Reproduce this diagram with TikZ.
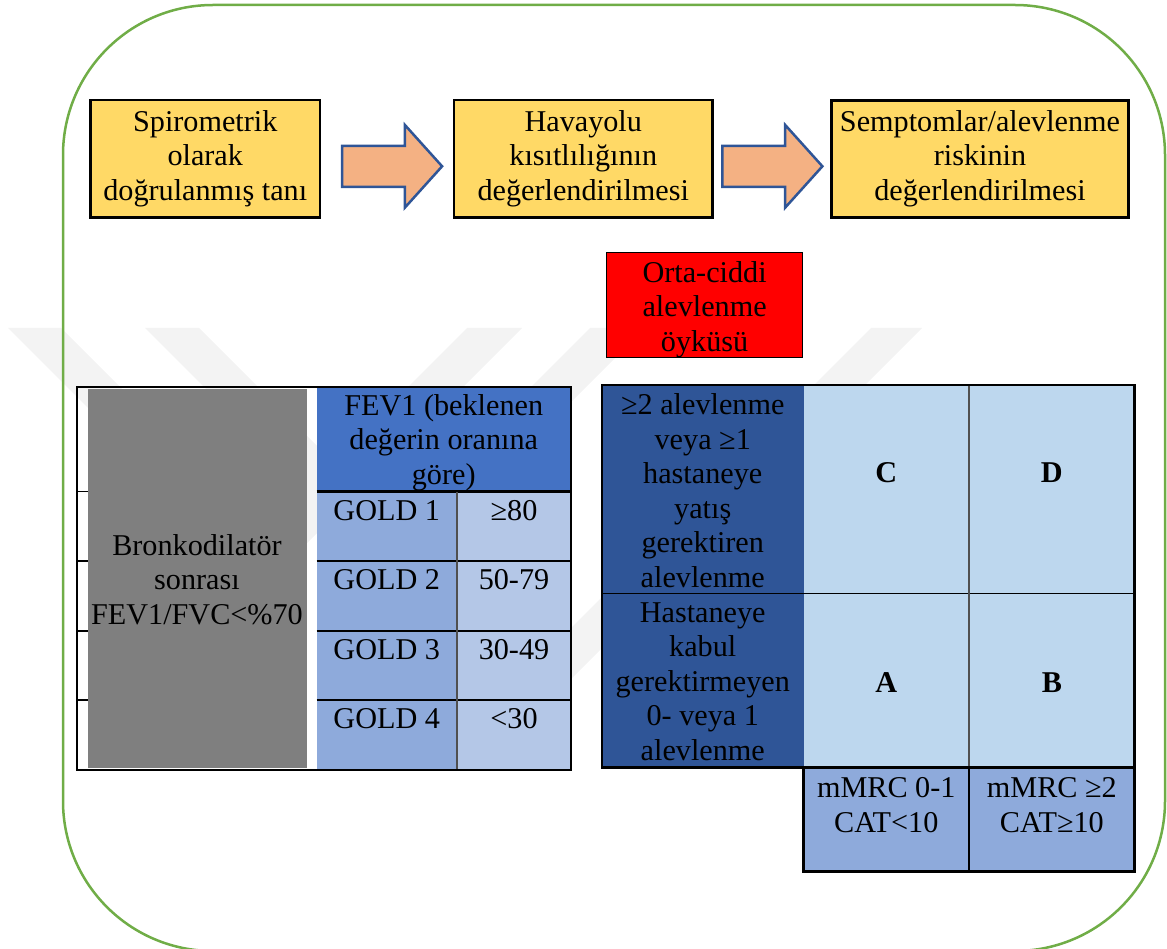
\documentclass[tikz,border=0pt]{standalone}
\usepackage{fontspec}
\setmainfont{Liberation Serif}
\usetikzlibrary{shapes.arrows}
\definecolor{frameg}{HTML}{70AD47}
\definecolor{boxy}{HTML}{FFD966}
\definecolor{arrowf}{HTML}{F4B183}
\definecolor{arrowd}{HTML}{2F5597}
\definecolor{cellgray}{HTML}{7F7F7F}
\definecolor{hdrblue}{HTML}{4472C4}
\definecolor{goldc}{HTML}{8EAADB}
\definecolor{valc}{HTML}{B4C7E7}
\definecolor{darkb}{HTML}{2F5597}
\definecolor{lightb}{HTML}{BDD7EE}
\definecolor{wmark}{HTML}{F3F3F3}
\definecolor{gridgray}{HTML}{505050}
\begin{document}
\begin{tikzpicture}[x=1pt,y=-1pt]
\tikzset{
  txt/.style={font=\fontsize{30.2}{34.5}\selectfont, align=center, inner sep=0pt, outer sep=0pt, anchor=north, execute at begin node=\strut},
  letter/.style={font=\fontsize{30.2}{34.5}\selectfont\bfseries, inner sep=0pt, anchor=center},
  cell/.style={anchor=north west, inner sep=0pt, outer sep=0pt, draw=none},
  stepbox/.style={cell, fill=boxy, draw=black, line width=2.2pt},
  blockarrow/.style={single arrow, draw=arrowd, fill=arrowf, line width=2.5pt, inner xsep=0pt, inner ysep=19.25pt, outer sep=0pt,
    single arrow tip angle=96, single arrow head extend=20.85pt, minimum height=100.1pt, minimum width=80.2pt, anchor=tail},
  outerline/.style={draw=black, line width=2.5pt},
  rowline/.style={draw=black, line width=2.2pt},
  thinline/.style={draw=black, line width=1.3pt},
  grayline/.style={draw=gridgray, line width=1.3pt}
}
\useasboundingbox (0,0) rectangle (1167,949);
\clip (0,0) rectangle (1167,949);

% watermark
\fill[wmark] (8,328)--(61,328)--(264,531)--(467,328)--(522,328)--(265,585)--cycle;
\fill[wmark] (145,328)--(199,328)--(394.5,523.5)--(590,328)--(645,328)--(395,578)--cycle;
\fill[wmark] (871,328)--(922,328)--(550,700)--(499,700)--cycle;

% frame
\draw[frameg, line width=2.5pt, rounded corners=150pt] (63,5) rectangle (1165,951);

% top row
\node[stepbox, minimum width=229.5pt, minimum height=117.5pt] (b1) at (90.5,100) {};
\node[stepbox, minimum width=258.5pt, minimum height=117.5pt] (b2) at (454,100) {};
\node[stepbox, minimum width=297pt, minimum height=117pt] (b3) at (831.5,100.5) {};
\node[txt] (tb1) at (205.25,110.5) {Spirometrik\\olarak\\doğrulanmış tanı};
\node[txt] (tb2) at (583.25,110.5) {Havayolu\\kısıtlılığının\\değerlendirilmesi};
\node[txt] (tb3) at (980,110.5) {Semptomlar/alevlenme\\riskinin\\değerlendirilmesi};
\node[blockarrow] (a1) at (342,166.3) {};
\node[blockarrow] (a2) at (722.3,166.3) {};

% red box
\node[cell, fill=red, draw=black, line width=1.5pt, minimum width=196pt, minimum height=105pt] (hist) at (606.7,252.3) {};
\node[txt] (thist) at (704.6,261.5) {Orta-ciddi\\alevlenme\\öyküsü};

% left table
\node[cell, fill=cellgray, minimum width=219.5pt, minimum height=379pt] (bronk) at (87.5,388.5) {};
\node[cell, fill=hdrblue, minimum width=254.5pt, minimum height=104.5pt] (hdr) at (316.5,387) {};
\node[cell, fill=goldc, minimum width=140.5pt, minimum height=69.5pt] (g1) at (316.5,491.5) {};
\node[cell, fill=valc, minimum width=114pt, minimum height=69.5pt] (v1) at (457,491.5) {};
\node[cell, fill=goldc, minimum width=140.5pt, minimum height=70pt] (g2) at (316.5,561) {};
\node[cell, fill=valc, minimum width=114pt, minimum height=70pt] (v2) at (457,561) {};
\node[cell, fill=goldc, minimum width=140.5pt, minimum height=69pt] (g3) at (316.5,631) {};
\node[cell, fill=valc, minimum width=114pt, minimum height=69pt] (v3) at (457,631) {};
\node[cell, fill=goldc, minimum width=140.5pt, minimum height=70pt] (g4) at (316.5,700) {};
\node[cell, fill=valc, minimum width=114pt, minimum height=70pt] (v4) at (457,700) {};
\coordinate (ltl) at (77,387);
\coordinate (lbr) at (571,770);
\draw[rowline] (g1.north west) -- (v1.north east);
\draw[rowline] (g2.north west) -- (v2.north east);
\draw[rowline] (g3.north west) -- (v3.north east);
\draw[rowline] (g4.north west) -- (v4.north east);
\draw[grayline] (v1.north west) -- (v4.south west);
\coordinate (k1) at (77,491.5); \coordinate (k2) at (77,561); \coordinate (k3) at (77,631); \coordinate (k4) at (77,700);
\draw[thinline] (k1) -- (bronk.west |- k1);
\draw[thinline] (k2) -- (bronk.west |- k2);
\draw[thinline] (k3) -- (bronk.west |- k3);
\draw[thinline] (k4) -- (bronk.west |- k4);
\draw[outerline] (ltl) rectangle (lbr);
\node[txt] (tbronk) at (197,534.5) {Bronkodilatör\\sonrası\\FEV1/FVC<\%70};
\node[txt] (thdr) at (443.75,394.5) {FEV1 (beklenen\\değerin oranına\\göre)};
\node[txt] (tg1) at (386.75,495.85) {GOLD 1};
\node[txt] (tv1) at (514,495.85) {≥80};
\node[txt] (tg2) at (386.75,565.35) {GOLD 2};
\node[txt] (tv2) at (514,565.35) {50-79};
\node[txt] (tg3) at (386.75,635.35) {GOLD 3};
\node[txt] (tv3) at (514,635.35) {30-49};
\node[txt] (tg4) at (386.75,704.35) {GOLD 4};
\node[txt] (tv4) at (514,704.35) {<30};

% right table
\node[cell, fill=darkb, minimum width=201.5pt, minimum height=208.3pt] (r1) at (602,385) {};
\node[cell, fill=darkb, minimum width=201.5pt, minimum height=174pt] (r2) at (602,593.3) {};
\node[cell, fill=lightb, minimum width=165.5pt, minimum height=208.3pt] (cC) at (803.5,385) {};
\node[cell, fill=lightb, minimum width=165.7pt, minimum height=208.3pt] (cD) at (969,385) {};
\node[cell, fill=lightb, minimum width=165.5pt, minimum height=174pt] (cA) at (803.5,593.3) {};
\node[cell, fill=lightb, minimum width=165.7pt, minimum height=174pt] (cB) at (969,593.3) {};
\node[cell, fill=goldc, minimum width=165.5pt, minimum height=104.4pt] (m1) at (803.5,767.3) {};
\node[cell, fill=goldc, minimum width=165.7pt, minimum height=104.4pt] (m2) at (969,767.3) {};
\draw[thinline] (r1.south west) -- (cD.south east);
\draw[grayline] (cD.north west) -- (cB.south west);
\draw[thinline] (m2.north west) -- (m2.south west);
\draw[outerline] (r1.north west) rectangle (cB.south east);
\draw[outerline] (m1.north west) rectangle (m2.south east);
\node[txt] (tr1) at (702.75,394) {≥2 alevlenme\\veya ≥1\\hastaneye\\yatış\\gerektiren\\alevlenme};
\node[txt] (tr2) at (702.75,602.5) {Hastaneye\\kabul\\gerektirmeyen\\0- veya 1\\alevlenme};
\node[letter] (lC) at (886.25,473) {C};
\node[letter] (lD) at (1051.85,473) {D};
\node[letter] (lA) at (886.25,683) {A};
\node[letter] (lB) at (1051.85,683) {B};
\node[txt] (tm1) at (886.25,777.5) {mMRC 0-1\\CAT<10};
\node[txt] (tm2) at (1051.85,777.5) {mMRC ≥2\\CAT≥10};
\end{tikzpicture}
\end{document}
